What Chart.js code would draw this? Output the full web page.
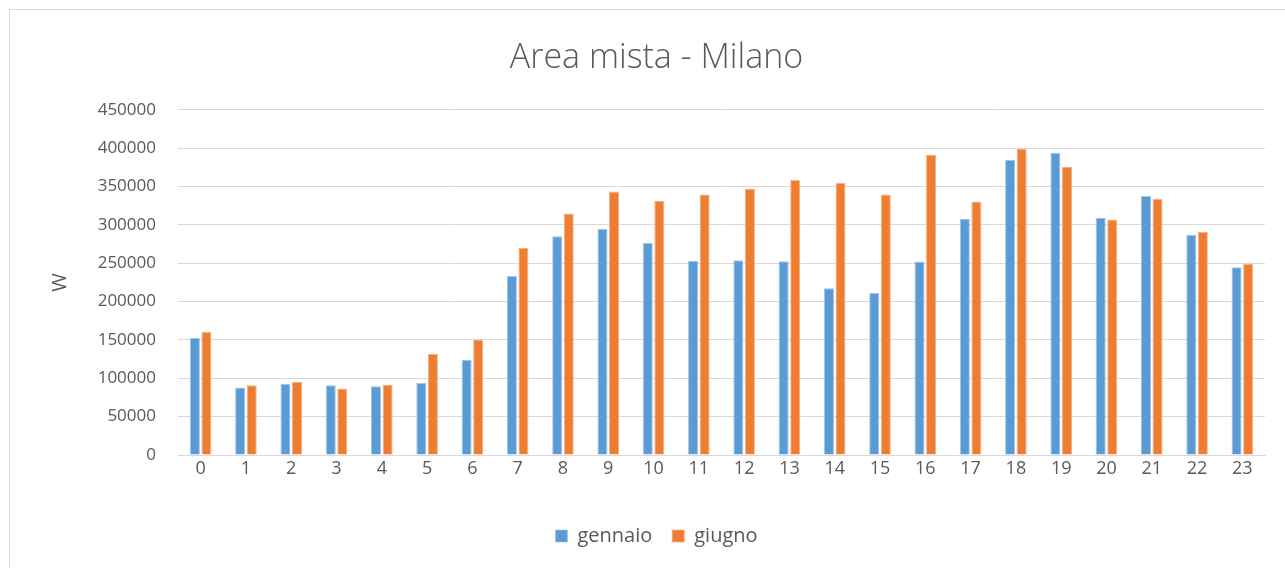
<!DOCTYPE html>
<html>
<head>
<meta charset="utf-8">
<script src="https://cdn.jsdelivr.net/npm/chart.js@4.4.1/dist/chart.umd.min.js"></script>
<style>
html,body{margin:0;padding:0;background:#fff;}
#wrap{position:absolute;left:0;top:0;width:1285px;height:568px;}
</style>
</head>
<body>
<div id="wrap"><canvas id="c" width="1285" height="568"></canvas></div>
<script>
const categories = ['0','1','2','3','4','5','6','7','8','9','10','11','12','13','14','15','16','17','18','19','20','21','22','23'];
const gennaio = [152400, 88000, 92800, 91000, 89700, 94100, 124100, 233400, 285300, 294800, 276500, 253000, 253900, 252600, 217300, 211200, 252100, 307900, 385000, 394100, 309200, 337500, 287000, 244700];
const giugno = [160700, 91000, 95400, 86700, 91500, 131500, 150700, 270000, 314900, 343600, 331400, 339700, 347100, 358400, 354900, 339700, 391500, 330500, 399300, 375400, 307000, 334000, 290900, 249500];
const seriesNames = ['gennaio', 'giugno'];
const yTicks = [0, 50000, 100000, 150000, 200000, 250000, 300000, 350000, 400000, 450000];

const textColor = '#595959';
const fontFam = '"Open Sans", "Liberation Sans", sans-serif';

const borderPlugin = {
  id: 'outerBorder',
  beforeDraw(chart) {
    const ctx = chart.ctx;
    ctx.save();
    ctx.fillStyle = '#fff';
    ctx.fillRect(0, 0, chart.width, chart.height);
    ctx.strokeStyle = '#d9d9d9';
    ctx.lineWidth = 1;
    ctx.strokeRect(9.5, 9.5, 1400, 700);
    ctx.restore();
  }
};

new Chart(document.getElementById('c'), {
  type: 'bar',
  data: {
    labels: categories,
    datasets: [
      { label: seriesNames[0], data: gennaio, backgroundColor: '#5B9BD5', borderColor: '#9dc3e6', borderWidth: {top:1,left:1,right:1,bottom:0},
        categoryPercentage: 0.51, barPercentage: 0.87 },
      { label: seriesNames[1], data: giugno, backgroundColor: '#ED7D31', borderColor: '#f4b183', borderWidth: {top:1,left:1,right:1,bottom:0},
        categoryPercentage: 0.51, barPercentage: 0.87 }
    ]
  },
  options: {
    responsive: false,
    animation: false,
    devicePixelRatio: 1,
    layout: { padding: { top: 0, left: 48, right: 20, bottom: 12 } },
    plugins: {
      title: {
        display: true,
        text: 'Area mista - Milano',
        color: textColor,
        font: { family: fontFam, size: 34, weight: '300', lineHeight: 1.2 },
        padding: { top: 38, bottom: 31 }
      },
      legend: {
        position: 'bottom',
        labels: {
          color: textColor,
          font: { family: fontFam, size: 20 },
          boxWidth: 12, boxHeight: 12,
          padding: 20
        }
      },
      tooltip: { enabled: false }
    },
    scales: {
      x: {
        grid: { display: false, drawTicks: false },
        border: { color: '#d9d9d9' },
        ticks: { color: textColor, font: { family: fontFam, size: 18 }, padding: 3, maxRotation: 0, autoSkip: false },
        afterFit(scale) { scale.height = 51; }
      },
      y: {
        min: 0, max: 450000,
        afterBuildTicks(scale) { scale.ticks = yTicks.map(v => ({ value: v })); },
        grid: { color: '#d9d9d9', drawTicks: false, lineWidth: 1 },
        border: { display: false },
        ticks: { color: textColor, font: { family: fontFam, size: 17 }, padding: 22,
          callback: (v) => String(v) },
        title: { display: true, text: 'W', color: textColor, font: { family: fontFam, size: 20 }, padding: { top: 0, bottom: 0 } },
        afterFit(scale) { scale.width = 130; }
      }
    }
  },
  plugins: [borderPlugin]
});
</script>
</body>
</html>
